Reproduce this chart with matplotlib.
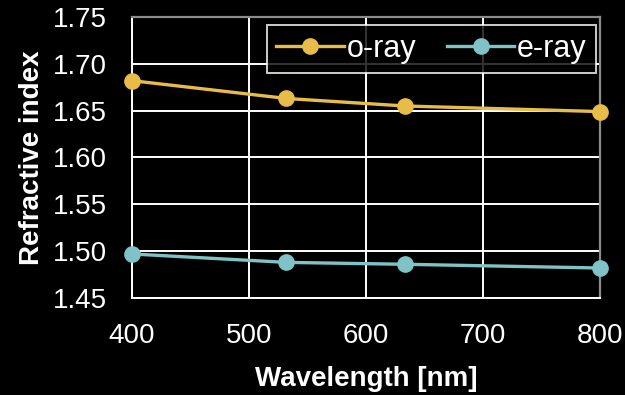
import matplotlib.pyplot as plt

# Refractive index vs wavelength
wavelength = [400, 532, 633, 800]
n_o = [1.682, 1.663, 1.655, 1.649]
n_e = [1.497, 1.488, 1.486, 1.482]
x_ticks = [400, 500, 600, 700, 800]
y_ticks = [1.45, 1.50, 1.55, 1.60, 1.65, 1.70, 1.75]

plt.rcParams['font.family'] = ['Liberation Sans', 'DejaVu Sans']

fig = plt.figure(figsize=(6.25, 3.95), dpi=100, facecolor='black')
ax = fig.add_axes([0.2112, 0.2456, 0.7488, 0.7114], facecolor='black')

ax.plot(wavelength, n_o, color='#E8BC48', lw=2.4, marker='o', ms=11,
        label='o-ray', clip_on=False, zorder=4)
ax.plot(wavelength, n_e, color='#7FC3C6', lw=2.4, marker='o', ms=11,
        label='e-ray', clip_on=False, zorder=4)

ax.set_xlim(400, 800)
ax.set_ylim(1.45, 1.75)
ax.set_xticks(x_ticks)
ax.set_yticks(y_ticks)
ax.set_yticklabels([f"{v:.2f}" for v in y_ticks])
ax.grid(color='white', lw=1.4, zorder=0)
ax.set_axisbelow(True)

for side in ['left', 'bottom']:
    ax.spines[side].set_color('white')
    ax.spines[side].set_linewidth(1.4)
for side in ['top', 'right']:
    ax.spines[side].set_color('#8c8c8c')
    ax.spines[side].set_linewidth(1.6)

ax.tick_params(colors='white', labelsize=20, length=0)
ax.tick_params(axis='x', pad=18)
ax.tick_params(axis='y', pad=18)
ax.set_xlabel('Wavelength [nm]', color='white', fontsize=20, fontweight='bold', labelpad=12)
ax.set_ylabel('Refractive index', color='white', fontsize=20, fontweight='bold', labelpad=6)

# legend in the top-right corner, white frame on black
leg = ax.legend(loc='upper right', ncol=2, fontsize=22, frameon=True, fancybox=False,
                handlelength=2.2, handletextpad=0.1, columnspacing=1.0,
                borderpad=0.3, borderaxespad=0, bbox_to_anchor=(0.9915, 0.9715))
leg.get_frame().set_facecolor('black')
leg.get_frame().set_edgecolor('white')
leg.get_frame().set_linewidth(1.4)
for t in leg.get_texts():
    t.set_color('white')

plt.savefig('out.png', dpi=100, facecolor='black')
